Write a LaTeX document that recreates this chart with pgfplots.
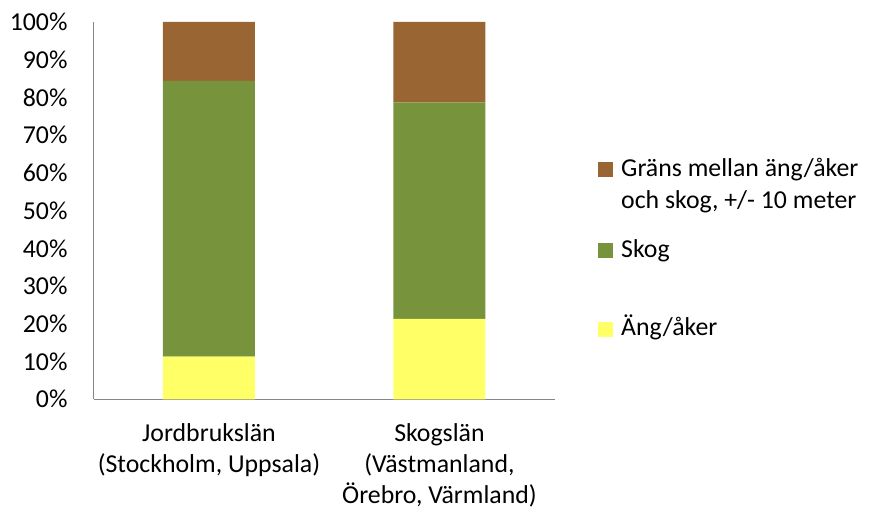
\documentclass[border=0pt]{standalone}
\usepackage{fontspec}
\setmainfont{Carlito}
\usepackage{pgfplots}
\pgfplotsset{compat=1.18}
\definecolor{cbrown}{HTML}{996633}
\definecolor{cgreen}{HTML}{77933C}
\definecolor{cyellow}{HTML}{FFFF66}
\definecolor{caxis}{HTML}{868686}
\pgfplotsset{sq/.style={legend image code/.code={\fill[##1, draw=none] (0bp,-1bp) rectangle (15bp,14bp);}}}
\begin{document}
\begin{tikzpicture}[font=\fontsize{25.8bp}{31bp}\selectfont]
\path[use as bounding box] (-93.7bp,-112.7bp) rectangle (775.3bp,399.3bp);
\begin{axis}[
  at={(0,0)}, anchor=south west,
  scale only axis, width=461bp, height=377.3bp,
  ybar stacked, bar width=92bp,
  xmin=-0.5, xmax=1.5, ymin=0, ymax=100,
  xtick={0,1},
  xticklabels={{Jordbrukslän\\(Stockholm, Uppsala)},{Skogslän\\(Västmanland,\\Örebro, Värmland)}},
  xticklabel style={align=center, inner sep=0pt, yshift=-24.5bp},
  ytick={0,10,...,100},
  yticklabel={\pgfmathprintnumber{\tick}\%},
  yticklabel style={inner sep=0pt, xshift=-26bp},
  /pgf/number format/assume math mode=true,
  axis x line*=bottom, axis y line*=left,
  axis line style={caxis, line width=1.5bp, -},
  major tick length=0pt,
  tick label style={font=\fontsize{25.8bp}{31bp}\selectfont},
  legend style={draw=none, fill=none, inner sep=0pt, row sep=0pt, column sep=6bp,
    at={(1.094,0.645)}, anchor=north west,
    font=\fontsize{25.8bp}{31bp}\selectfont},
  legend cell align=left,
  legend style={cells={anchor=base west, inner sep=0pt}},
]
\addlegendimage{sq, fill=cbrown}
\addlegendentry{\rule[-8bp]{0pt}{24bp}Gräns mellan äng/åker}
\addlegendimage{empty legend}
\addlegendentry{\rule[-8bp]{0pt}{35bp}och skog, +/- 10 meter}
\addlegendimage{sq, fill=cgreen}
\addlegendentry{\rule[-8bp]{0pt}{51bp}Skog}
\addlegendimage{sq, fill=cyellow}
\addlegendentry{\rule[-8bp]{0pt}{81bp}Äng/åker}
\addplot[fill=cyellow, draw=none, forget plot] coordinates {(0,11.3) (1,21.3)};
\addplot[fill=cgreen, draw=none, forget plot] coordinates {(0,73.1) (1,57.4)};
\addplot[fill=cbrown, draw=none, forget plot] coordinates {(0,15.6) (1,21.3)};
\end{axis}
\end{tikzpicture}
\end{document}
